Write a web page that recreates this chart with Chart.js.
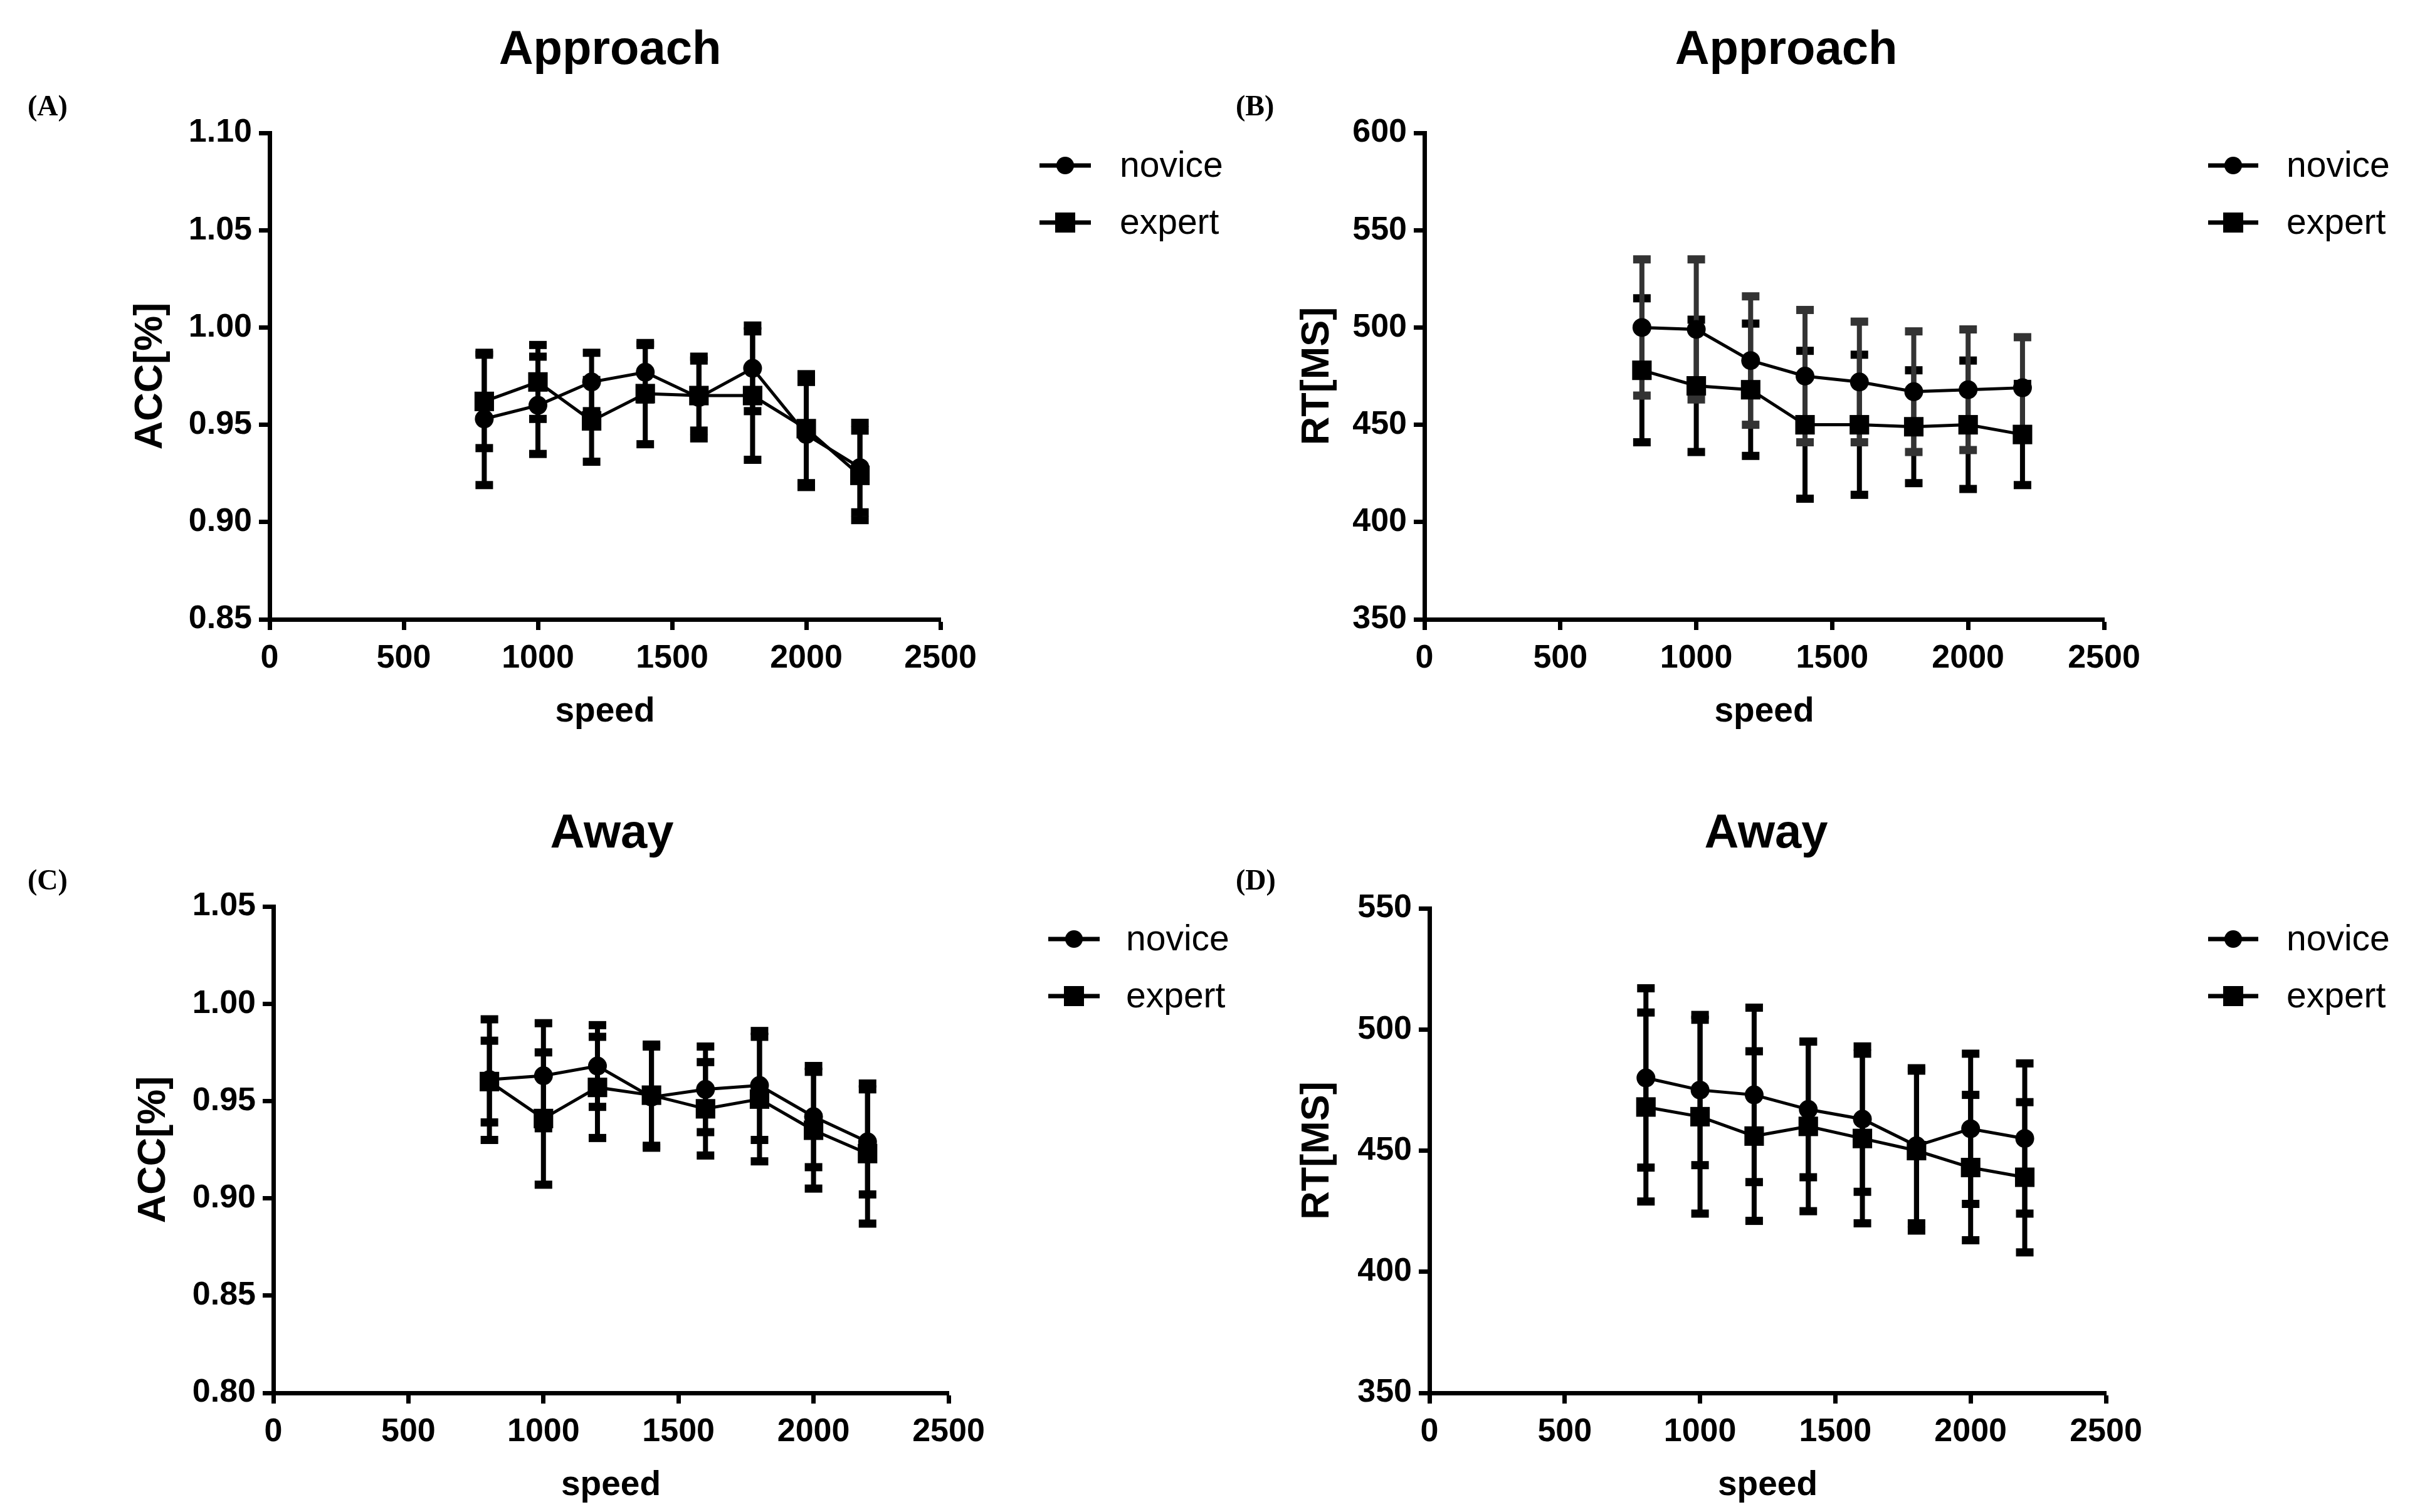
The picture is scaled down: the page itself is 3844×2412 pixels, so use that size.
<!DOCTYPE html>
<html>
<head>
<meta charset="utf-8">
<script src="https://cdn.jsdelivr.net/npm/chart.js@4.4.1/dist/chart.umd.min.js"></script>
<style>
    html, body { margin: 0; padding: 0; background: #fff; }
    #wrap { position: relative; width: 3844px; height: 2412px; background: #fff; overflow: hidden; }
    canvas { position: absolute; }
</style>
</head>
<body>
<div id="wrap">
    <canvas id="pA" width="2100" height="1206" style="left:0;top:0"></canvas>
    <canvas id="pC" width="2100" height="1206" style="left:0;top:1206px"></canvas>
    <canvas id="pB" width="1922" height="1206" style="left:1922px;top:0"></canvas>
    <canvas id="pD" width="1922" height="1206" style="left:1922px;top:1206px"></canvas>
</div>
<script>
// speed levels shared by all four panels
const speeds = [800, 1000, 1200, 1400, 1600, 1800, 2000, 2200];
const speedTicks = [0, 500, 1000, 1500, 2000, 2500];

// (A) Approach - accuracy
const accApproachNovice    = [0.953, 0.960, 0.972, 0.977, 0.964, 0.979, 0.945, 0.928];
const accApproachNoviceErr = [0.034, 0.025, 0.015, 0.014, 0.021, 0.022, 0.027, 0.023];
const accApproachExpert    = [0.962, 0.972, 0.952, 0.966, 0.965, 0.965, 0.948, 0.924];
const accApproachExpertErr = [0.024, 0.019, 0.021, 0.026, 0.018, 0.033, 0.028, 0.023];
const accApproachTicks = [0.85, 0.90, 0.95, 1.00, 1.05, 1.10];

// (B) Approach - reaction time
const rtApproachNovice    = [500, 499, 483, 475, 472, 467, 468, 469];
const rtApproachNoviceErr = [35, 36, 33, 34, 31, 31, 31, 26];
const rtApproachExpert    = [478, 470, 468, 450, 450, 449, 450, 445];
const rtApproachExpertErr = [37, 34, 34, 38, 36, 29, 33, 26];
const rtApproachTicks = [350, 400, 450, 500, 550, 600];

// (C) Away - accuracy
const accAwayNovice    = [0.961, 0.963, 0.968, 0.952, 0.956, 0.958, 0.942, 0.929];
const accAwayNoviceErr = [0.031, 0.027, 0.021, 0.026, 0.022, 0.028, 0.026, 0.027];
const accAwayExpert    = [0.960, 0.941, 0.957, 0.953, 0.946, 0.951, 0.935, 0.923];
const accAwayExpertErr = [0.021, 0.034, 0.026, 0.026, 0.024, 0.032, 0.030, 0.036];
const accAwayTicks = [0.80, 0.85, 0.90, 0.95, 1.00, 1.05];

// (D) Away - reaction time
const rtAwayNovice    = [480, 475, 473, 467, 463, 452, 459, 455];
const rtAwayNoviceErr = [37, 31, 36, 28, 30, 32, 31, 31];
const rtAwayExpert    = [468, 464, 456, 460, 455, 450, 443, 439];
const rtAwayExpertErr = [39, 40, 35, 35, 35, 33, 30, 31];
const rtAwayTicks = [350, 400, 450, 500, 550];

const SANS = '"Liberation Sans", Arial, sans-serif';
const SERIF = '"Liberation Serif", "Times New Roman", serif';

// layout of each panel, in canvas-local pixels
const panels = [
    {
        id: 'pA', width: 2100, label: '(A)', title: 'Approach', yTitle: 'ACC[%]', decimals: 2,
        novice: accApproachNovice, noviceErr: accApproachNoviceErr,
        expert: accApproachExpert, expertErr: accApproachExpertErr,
        ticks: accApproachTicks, noviceBarColor: '#000',
        box: { left: 430, right: 1500, top: 212, bottom: 988 },
        yTitleX: 241, titleX: 973, titleY: 81, labelX: 44, labelY: 172,
        legLine: [1658, 1740], legText: 1786, legRows: [264, 355]
    },
    {
        id: 'pB', width: 1922, label: '(B)', title: 'Approach', yTitle: 'RT[MS]', decimals: 0,
        novice: rtApproachNovice, noviceErr: rtApproachNoviceErr,
        expert: rtApproachExpert, expertErr: rtApproachExpertErr,
        ticks: rtApproachTicks, noviceBarColor: '#333',
        box: { left: 350, right: 1434, top: 212, bottom: 988 },
        yTitleX: 180, titleX: 927, titleY: 81, labelX: 49, labelY: 172,
        legLine: [1600, 1680], legText: 1725, legRows: [264, 355]
    },
    {
        id: 'pC', width: 2100, label: '(C)', title: 'Away', yTitle: 'ACC[%]', decimals: 2,
        novice: accAwayNovice, noviceErr: accAwayNoviceErr,
        expert: accAwayExpert, expertErr: accAwayExpertErr,
        ticks: accAwayTicks, noviceBarColor: '#000',
        box: { left: 436, right: 1513, top: 240, bottom: 1016 },
        yTitleX: 246, titleX: 976, titleY: 125, labelX: 44, labelY: 201,
        legLine: [1672, 1754], legText: 1796, legRows: [292, 383]
    },
    {
        id: 'pD', width: 1922, label: '(D)', title: 'Away', yTitle: 'RT[MS]', decimals: 0,
        novice: rtAwayNovice, noviceErr: rtAwayNoviceErr,
        expert: rtAwayExpert, expertErr: rtAwayExpertErr,
        ticks: rtAwayTicks, noviceBarColor: '#000',
        box: { left: 358, right: 1437, top: 243, bottom: 1016 },
        yTitleX: 180, titleX: 895, titleY: 125, labelX: 49, labelY: 201,
        legLine: [1600, 1680], legText: 1725, legRows: [292, 383]
    }
];

// vertical SEM bars with flat caps, placed through the chart scales
const errorBars = {
    id: 'errorBars',
    beforeDatasetsDraw(chart, args, opts) {
        const { ctx, scales: { x, y } } = chart;
        ctx.save();
        opts.sets.forEach(set => {
            ctx.strokeStyle = set.color;
            ctx.fillStyle = set.color;
            ctx.lineWidth = 8;
            speeds.forEach((s, i) => {
                const px = x.getPixelForValue(s);
                const hi = y.getPixelForValue(set.values[i] + set.errors[i]);
                const lo = y.getPixelForValue(set.values[i] - set.errors[i]);
                ctx.beginPath();
                ctx.moveTo(px, hi);
                ctx.lineTo(px, lo);
                ctx.stroke();
                ctx.fillRect(px - 14, hi - 6.5, 28, 13);
                ctx.fillRect(px - 14, lo - 6.5, 28, 13);
            });
        });
        ctx.restore();
    }
};

// panel letter, title and the two-row legend
const decorations = {
    id: 'decorations',
    afterDraw(chart, args, p) {
        const ctx = chart.ctx;
        ctx.save();
        ctx.fillStyle = '#000';
        ctx.textBaseline = 'middle';

        ctx.font = 'bold 46px ' + SERIF;
        ctx.textAlign = 'left';
        ctx.fillText(p.label, p.labelX, p.labelY);

        ctx.font = 'bold 76px ' + SANS;
        ctx.textAlign = 'center';
        ctx.fillText(p.title, p.titleX, p.titleY);

        const names = ['novice', 'expert'];
        names.forEach((name, i) => {
            const yy = p.legRows[i];
            const cx = (p.legLine[0] + p.legLine[1]) / 2;
            ctx.strokeStyle = '#000';
            ctx.lineWidth = 7;
            ctx.beginPath();
            ctx.moveTo(p.legLine[0], yy);
            ctx.lineTo(p.legLine[1], yy);
            ctx.stroke();
            if (i === 0) {
                ctx.beginPath();
                ctx.arc(cx, yy, 14, 0, Math.PI * 2);
                ctx.fill();
            } else {
                ctx.fillRect(cx - 16, yy - 16, 32, 32);
            }
            ctx.font = '57px ' + SANS;
            ctx.textAlign = 'left';
            ctx.fillText(name, p.legText, yy + 2);
        });
        ctx.restore();
    }
};

function makeChart(p) {
    const ctx = document.getElementById(p.id);
    const W = p.width, H = 1206;
    const yTitleSize = 63;
    const padLeft = p.yTitleX - yTitleSize * 1.2 / 2;
    const xAxisH = 190;

    return new Chart(ctx, {
        type: 'line',
        data: {
            datasets: [
                {
                    label: 'novice',
                    data: speeds.map((s, i) => ({ x: s, y: p.novice[i] })),
                    borderColor: '#000',
                    backgroundColor: '#000',
                    borderWidth: 5,
                    pointStyle: 'circle',
                    pointRadius: 15,
                    pointBorderWidth: 0,
                    tension: 0
                },
                {
                    label: 'expert',
                    data: speeds.map((s, i) => ({ x: s, y: p.expert[i] })),
                    borderColor: '#000',
                    backgroundColor: '#000',
                    borderWidth: 5,
                    pointStyle: 'rect',
                    pointRadius: 22,
                    pointBorderWidth: 0,
                    tension: 0
                }
            ]
        },
        options: {
            responsive: false,
            animation: false,
            devicePixelRatio: 1,
            layout: {
                padding: {
                    left: padLeft,
                    top: p.box.top,
                    right: W - p.box.right,
                    bottom: H - p.box.bottom - xAxisH
                }
            },
            scales: {
                x: {
                    type: 'linear',
                    min: speedTicks[0],
                    max: speedTicks[speedTicks.length - 1],
                    afterBuildTicks: s => { s.ticks = speedTicks.map(v => ({ value: v })); },
                    afterFit: s => { s.height = xAxisH; },
                    grid: { drawOnChartArea: false, drawTicks: true, tickLength: 17, tickWidth: 7, tickColor: '#000' },
                    border: { display: true, color: '#000', width: 7 },
                    ticks: {
                        color: '#000',
                        padding: 14,
                        font: { family: SANS, size: 52, weight: 'bold' },
                        callback: v => String(v)
                    },
                    title: {
                        display: true,
                        text: 'speed',
                        color: '#000',
                        padding: { top: 0, bottom: 9 },
                        font: { family: SANS, size: 55, weight: 'bold', lineHeight: 1.2 }
                    }
                },
                y: {
                    min: p.ticks[0],
                    max: p.ticks[p.ticks.length - 1],
                    afterBuildTicks: s => { s.ticks = p.ticks.map(v => ({ value: v })); },
                    afterFit: s => { s.width = p.box.left - padLeft; },
                    grid: { drawOnChartArea: false, drawTicks: true, tickLength: 17, tickWidth: 7, tickColor: '#000' },
                    border: { display: true, color: '#000', width: 7 },
                    ticks: {
                        color: '#000',
                        padding: 11,
                        font: { family: SANS, size: 52, weight: 'bold' },
                        callback: v => Number(v).toFixed(p.decimals)
                    },
                    title: {
                        display: true,
                        text: p.yTitle,
                        color: '#000',
                        padding: { top: 0, bottom: 0 },
                        font: { family: SANS, size: yTitleSize, weight: 'bold', lineHeight: 1.2 }
                    }
                }
            },
            plugins: {
                legend: { display: false },
                tooltip: { enabled: false },
                errorBars: {
                    sets: [
                        { values: p.expert, errors: p.expertErr, color: '#000' },
                        { values: p.novice, errors: p.noviceErr, color: p.noviceBarColor }
                    ]
                },
                decorations: p
            }
        },
        plugins: [errorBars, decorations]
    });
}

panels.forEach(makeChart);
</script>
</body>
</html>
